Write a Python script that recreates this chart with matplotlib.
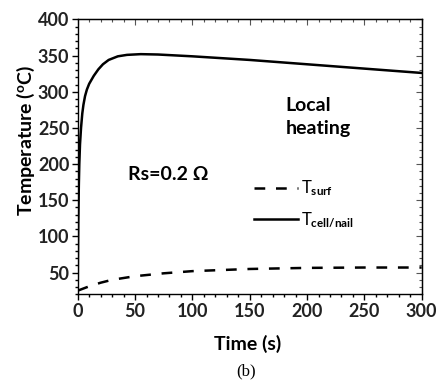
import matplotlib
matplotlib.use("Agg")
import matplotlib.pyplot as plt
from matplotlib.ticker import MultipleLocator

plt.rcParams['font.family'] = ['Lato', 'DejaVu Sans']
plt.rcParams['mathtext.fontset'] = 'custom'
plt.rcParams['mathtext.rm'] = 'Lato'
plt.rcParams['mathtext.bf'] = 'Lato:bold'
plt.rcParams['mathtext.it'] = 'Lato:italic'

# Data
t_cell = [0, 0.2, 0.5, 1, 1.4, 2, 2.9, 4, 5, 6.4, 8, 10, 14, 18, 22, 27, 35, 43, 55, 70, 100, 150, 200, 250, 300]
T_cell = [25, 70, 120, 172, 200, 227, 250, 270, 282, 294, 303, 311, 322, 331, 338, 344, 349, 351, 352, 351.5, 349, 344, 338, 332, 326]
t_surf = [0, 10, 20, 30, 50, 75, 100, 150, 200, 250, 300]
T_surf = [25, 31, 36, 40, 45, 49, 52, 55, 56.5, 57, 57]
x_ticks = [0, 50, 100, 150, 200, 250, 300]
y_ticks = [50, 100, 150, 200, 250, 300, 350, 400]

fig = plt.figure(figsize=(4.38, 3.81), dpi=100)
ax = fig.add_axes([0.1774, 0.2276, 0.9628 - 0.1774, 0.949 - 0.2276])

ax.plot(t_surf, T_surf, color='black', lw=1.8, ls=(0, (4.3, 4.3)), label=r'T$_{\mathbf{surf}}$')
ax.plot(t_cell, T_cell, color='black', lw=1.8, label=r'T$_{\mathbf{cell/nail}}$')

ax.set_xlim(0, 300)
ax.set_ylim(20, 400)
ax.set_xticks(x_ticks)
ax.set_yticks(y_ticks)
ax.xaxis.set_minor_locator(MultipleLocator(10))
ax.yaxis.set_minor_locator(MultipleLocator(10))
ax.tick_params(which='both', direction='out', top=False, right=False, width=1)
ax.tick_params(which='major', length=4, labelsize=13, pad=2)
ax.tick_params(which='minor', length=2)
for lab in ax.get_xticklabels() + ax.get_yticklabels():
    lab.set_fontweight('bold')
    lab.set_color('#222222')

# mirrored inward ticks on top/right
secx = ax.secondary_xaxis('top')
secx.set_xticks(x_ticks)
secx.xaxis.set_minor_locator(MultipleLocator(10))
secx.tick_params(which='both', direction='in', labeltop=False, width=0.8, color='#555555')
secx.tick_params(which='major', length=4)
secx.tick_params(which='minor', length=2)
secy = ax.secondary_yaxis('right')
secy.set_yticks(y_ticks)
secy.yaxis.set_minor_locator(MultipleLocator(10))
secy.tick_params(which='both', direction='in', labelright=False, width=0.8, color='#555555')
secy.tick_params(which='major', length=4)
secy.tick_params(which='minor', length=2)

for s in ax.spines.values():
    s.set_linewidth(1.0)

ax.set_xlabel('Time (s)', fontsize=14, fontweight='bold')
ax.xaxis.set_label_coords(0.495, -0.18)
ax.xaxis.label.set_va('center')
ax.set_ylabel(r'Temperature ($^{\mathbf{o}}$C)', fontsize=14, fontweight='bold')
ax.yaxis.set_label_coords(-0.15, 0.56)
ax.yaxis.label.set_va('center')

ax.text(181, 265, 'Local\nheating', fontsize=14, fontweight='bold', ha='left', va='center', linespacing=1.45)
ax.text(44, 185, 'Rs=0.2 Ω', fontsize=14, fontweight='bold', ha='left', va='center')

leg = ax.legend(loc='upper left', bbox_to_anchor=(0.47, 0.475), frameon=False, fontsize=12,
                handlelength=2.6, handletextpad=0.2, labelspacing=0.7)

fig.text(0.562, 0.026, '(b)', fontsize=12, family='Liberation Serif', ha='center', va='center')

fig.savefig('out.png', dpi=100)
